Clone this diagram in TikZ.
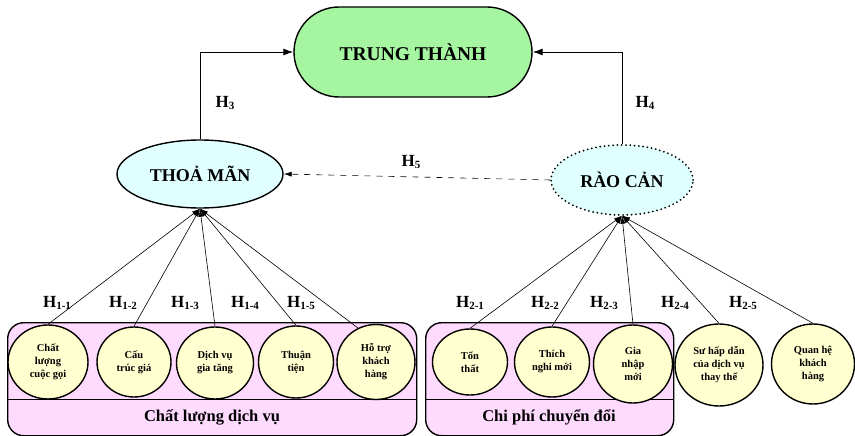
\documentclass[tikz,border=0pt]{standalone}
\usepackage{fontspec}
\setmainfont{Liberation Serif}
\usetikzlibrary{shapes.geometric,shapes.misc,arrows.meta}

\definecolor{trustgreen}{RGB}{166,245,160}
\definecolor{satcyan}{RGB}{224,255,255}
\definecolor{factoryellow}{RGB}{255,255,208}
\definecolor{grouppink}{RGB}{255,218,255}

\tikzset{
  border/.style={draw=black, line width=1.4pt},
  mainnode/.style={border, rounded rectangle, fill=trustgreen,
    minimum width=238pt, minimum height=90pt, inner sep=0pt,
    font=\fontsize{19.5}{22}\selectfont\bfseries},
  midnode/.style={border, ellipse, fill=satcyan, inner sep=0pt,
    font=\fontsize{18}{20}\selectfont\bfseries},
  factor/.style={border, ellipse, fill=factoryellow, inner sep=0pt,
    align=center, font=\fontsize{10.5}{13}\selectfont\bfseries},
  groupbox/.style={border, fill=grouppink, rounded corners=16pt},
  grouplabel/.style={font=\fontsize{16.5}{18}\selectfont\bfseries},
  link/.style={line width=0.6pt, -{Latex[length=8pt,width=5pt]}},
  bigarrow/.style={line width=0.9pt, -{Latex[length=10pt,width=7pt]}},
  hlabel/.style={inner sep=0pt},
}
\newcommand{\hyp}[1]{{\fontsize{17}{18}\selectfont\bfseries H}\raisebox{-0.3ex}{\fontsize{11}{12}\selectfont\bfseries #1}}

\begin{document}
\begin{tikzpicture}[x=1pt,y=-1pt]
\useasboundingbox (0,0) rectangle (855,436);

% top-level construct
\node[mainnode] (tt) at (413,52) {TRUNG THÀNH};

% intermediate constructs
\node[midnode, minimum width=166pt, minimum height=68pt] (tm) at (200,174) {THOẢ MÃN};
\node[midnode, draw=none, minimum width=142pt, minimum height=70pt] (rc) at (622,180) {RÀO CẢN};
\draw[line width=2pt, line cap=round, dash pattern=on 0pt off 4.3pt]
  (622,180) ellipse [x radius=71pt, y radius=35pt];

% group boxes
\node[groupbox, minimum width=409pt, minimum height=113pt, anchor=north west] (g1) at (7,322) {};
\draw[line width=1pt] (7,399) -- (416,399);
\node[grouplabel] (g1l) at (212,417) {Chất lượng dịch vụ};

\node[groupbox, minimum width=248pt, minimum height=113pt, anchor=north west] (g2) at (425,322) {};
\draw[line width=1pt] (425,399) -- (673,399);
\node[grouplabel] (g2l) at (549,417) {Chi phí chuyển đổi};

% service-quality factors
\node[factor, minimum width=80pt, minimum height=74pt] (c11) at (48,362) {Chất\\lượng\\cuộc gọi};
\node[factor, minimum width=74pt, minimum height=70pt] (c12) at (134,362) {Cấu\\trúc giá};
\node[factor, minimum width=77pt, minimum height=72pt] (c13) at (215,363) {Dịch vụ\\gia tăng};
\node[factor, minimum width=75pt, minimum height=72pt] (c14) at (296,362) {Thuận\\tiện};
\node[factor, minimum width=78pt, minimum height=75pt] (c15) at (376,362) {Hỗ trợ\\khách\\hàng};

% switching-cost and barrier factors
\node[factor, minimum width=75pt, minimum height=66pt] (c21) at (470,362) {Tổn\\thất};
\node[factor, minimum width=75pt, minimum height=70pt] (c22) at (552,362) {Thích\\nghi mới};
\node[factor, minimum width=79pt, minimum height=78pt] (c23) at (633,364) {Gia\\nhập\\mới};
\node[factor, minimum width=88pt, minimum height=82pt] (c24) at (719,365) {Sư hấp dẫn\\của dịch vụ\\thay thế};
\node[factor, minimum width=83pt, minimum height=80pt] (c25) at (813,364) {Quan hệ\\khách\\hàng};

% hypothesised paths
\draw[bigarrow] (tm.north) |- (tt.west);
\draw[bigarrow] (rc.north) |- (tt.east);
\draw[link, dash pattern=on 6pt off 6pt] (rc.west) -- (tm.east);

\foreach \c in {c11,c12,c13,c14}
  \draw[link] (\c.north) -- (tm.south);
\draw[link] (c15.118) -- (tm.south);
\foreach \c in {c21,c22,c23,c24,c25}
  \draw[link] (\c.north) -- (rc.south);

% path labels
\node[hlabel] (h3) at (225,103) {\hyp{3}};
\node[hlabel] (h4) at (645,103) {\hyp{4}};
\node[hlabel] (h5) at (411,162) {\hyp{5}};

\node[hlabel] (h11) at (57,303) {\hyp{1-1}};
\node[hlabel] (h12) at (123,303) {\hyp{1-2}};
\node[hlabel] (h13) at (185,303) {\hyp{1-3}};
\node[hlabel] (h14) at (245,303) {\hyp{1-4}};
\node[hlabel] (h15) at (301,303) {\hyp{1-5}};

\node[hlabel] (h21) at (470,303) {\hyp{2-1}};
\node[hlabel] (h22) at (545,303) {\hyp{2-2}};
\node[hlabel] (h23) at (604,303) {\hyp{2-3}};
\node[hlabel] (h24) at (675,303) {\hyp{2-4}};
\node[hlabel] (h25) at (743,303) {\hyp{2-5}};
\end{tikzpicture}
\end{document}
